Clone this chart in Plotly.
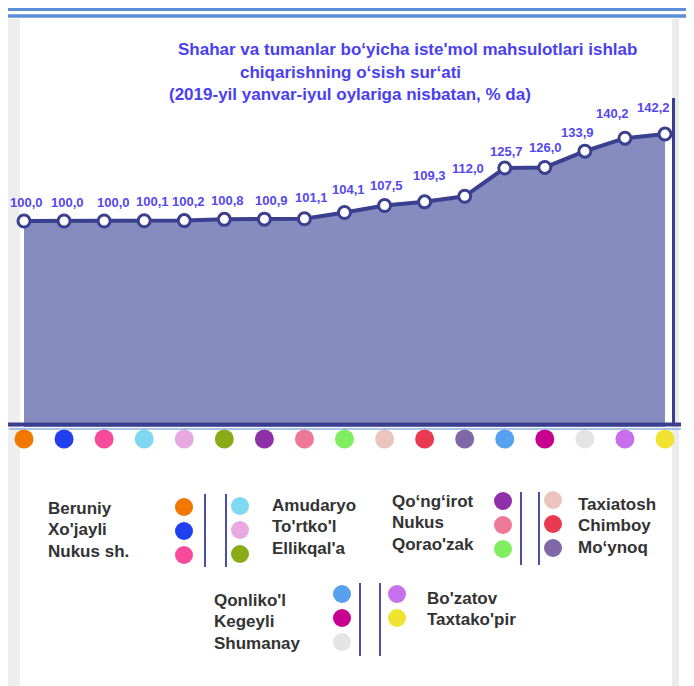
import plotly.graph_objects as go

W, H = 694, 686
OFF = 8  # page body margin: screen pixel = figure pixel + OFF

# ---------------- data ----------------
districts = ["Beruniy", "Xo'jayli", "Nukus sh.", "Amudaryo", "To'rtko'l", "Ellikqal'a",
             "Qo\u2018ng\u2018irot", "Nukus", "Qorao'zak", "Taxiatosh", "Chimboy", "Mo\u2018ynoq",
             "Qonliko'l", "Kegeyli", "Shumanay", "Bo'zatov", "Taxtako'pir"]
growth = [100.0, 100.0, 100.0, 100.1, 100.2, 100.8, 100.9, 101.1, 104.1, 107.5,
          109.3, 112.0, 125.7, 126.0, 133.9, 140.2, 142.2]
dot_colors = ["#f07800", "#2040f0", "#f84a9a", "#80d8f0", "#e8a8e0", "#8aaa18",
              "#9030a8", "#ee7898", "#80ee60", "#ecc4be", "#e83a50", "#8068a8",
              "#58a0f0", "#c80090", "#e4e4e4", "#c870ec", "#f0e430"]
title_lines = ["Shahar va tumanlar bo\u2018yicha iste'mol mahsulotlari ishlab",
               "chiqarishning o\u2018sish sur\u2018ati",
               "(2019-yil yanvar-iyul oylariga nisbatan, % da)"]

# label placement offsets (pixels) for the value labels
label_dx = [2, 3, 9, 8, 4, 3, 7, 7, 4, 2, 5, 3, 2, 1, -7, -12, -12]
label_dy = [19, 19, 19, 19, 19, 19, 19, 21, 23, 20, 26, 28, 17, 20, 19, 25, 27]

# legend groups: (indices, label side, label x, dot x, first dot y, first label y)
legend_groups = [
    ([0, 1, 2], "left", 46, 184, 507, 508),
    ([3, 4, 5], "right", 270, 240, 506, 505),
    ([6, 7, 8], "left", 390, 503, 501, 501),
    ([9, 10, 11], "right", 576, 553, 500, 504),
    ([12, 13, 14], "left", 212, 342, 594, 600),
    ([15, 16], "right", 425, 397, 594, 598),
]
legend_rules = [(205, 494, 567), (226, 494, 567), (521, 492, 565), (539, 492, 565),
                (360, 583, 656), (380, 583, 656)]

NAVY = "#3b3f8f"
FONT = "Liberation Sans, Arial, sans-serif"

def fmt(v):
    return f"{v:.1f}".replace(".", ",")

n = len(growth)
xs = list(range(n))

# pixel mapping of main axes (screen pixels)
px_step = (665 - 24) / (n - 1)
x0 = -(24 - OFF) / px_step
x1 = x0 + W / px_step
ppu = 2.06
yspan = H / ppu
y_lo = 100 - (1 - (221 - OFF) / H) * yspan
y_hi = y_lo + yspan

fig = go.Figure()

# area + line
fig.add_trace(go.Scatter(
    x=xs, y=growth, mode="lines+markers", fill="tozeroy",
    fillcolor="#878cc0",
    line=dict(color=NAVY, width=4),
    marker=dict(size=12, color="white", line=dict(color=NAVY, width=3)),
    hoverinfo="skip", showlegend=False))

# tick stubs under axis
tx, ty = [], []
for i in xs:
    tx += [i, i, None]
    ty += [428, 433, None]
fig.add_trace(go.Scatter(x=tx, y=ty, xaxis="x", yaxis="y2", mode="lines",
                         line=dict(color="#7fa6dc", width=1), hoverinfo="skip", showlegend=False))

# colored category dots below axis
fig.add_trace(go.Scatter(x=xs, y=[439] * n, xaxis="x", yaxis="y2", mode="markers",
                         marker=dict(size=19, color=dot_colors, line=dict(width=0)),
                         hoverinfo="skip", showlegend=False))

# legend dots
lx, ly, lc = [], [], []
for idxs, side, tx_, dx, yd, yl in legend_groups:
    for r, k in enumerate(idxs):
        lx.append(dx)
        ly.append(yd + r * 24)
        lc.append(dot_colors[k])
fig.add_trace(go.Scatter(x=lx, y=ly, xaxis="x2", yaxis="y2", mode="markers",
                         marker=dict(size=18, color=lc, line=dict(width=0)),
                         hoverinfo="skip", showlegend=False))

annotations = []
# data labels
for i, v in enumerate(growth):
    annotations.append(dict(x=i, y=v, xref="x", yref="y", text=fmt(v), showarrow=False,
                            xshift=label_dx[i], yshift=label_dy[i],
                            font=dict(family=FONT, size=13, color="#5548ee", weight="bold")))
# legend labels
for idxs, side, tx_, dx, yd, yl in legend_groups:
    for r, k in enumerate(idxs):
        annotations.append(dict(x=tx_, y=yl + r * 21.5, xref="x2", yref="y2",
                                text=districts[k], showarrow=False, xanchor="left", yanchor="middle",
                                font=dict(family=FONT, size=17, color="#333333", weight="bold")))
# title
title_pos = [(407, 49), (350, 72), (350, 94)]
for t, (tx_, ty_) in zip(title_lines, title_pos):
    annotations.append(dict(x=tx_, y=ty_, xref="x2", yref="y2", text=t, showarrow=False,
                            xanchor="center", yanchor="middle",
                            font=dict(family=FONT, size=17, color="#4a3ff0", weight="bold")))

shapes = []
def pline(xa, ya, xb, yb, color, width):
    shapes.append(dict(type="line", xref="x2", yref="y2", x0=xa, y0=ya, x1=xb, y1=yb,
                       line=dict(color=color, width=width)))
def prect(xa, ya, xb, yb, color):
    shapes.append(dict(type="rect", xref="x2", yref="y2", x0=xa, y0=ya, x1=xb, y1=yb,
                       fillcolor=color, line=dict(width=0), layer="below"))

prect(8, 19, 20, H + OFF, "#eeeeee")
prect(672, 19, 679, H + OFF, "#ececec")
pline(8, 9.5, W + OFF, 9.5, "#5b8ed6", 3)
pline(8, 16, W + OFF, 16, "#5b8ed6", 3.5)
pline(9, 429, 681, 429, "#8fb0e0", 1.5)
pline(8, 424.5, 681, 424.5, NAVY, 4)
pline(673.5, 98, 673.5, 426, NAVY, 3)
for (xx, ya, yb) in legend_rules:
    pline(xx, ya, xx, yb, "#4a50a8", 2)

fig.update_layout(
    width=W, height=H,
    margin=dict(l=0, r=0, t=0, b=0),
    paper_bgcolor="white", plot_bgcolor="rgba(0,0,0,0)",
    xaxis=dict(range=[x0, x1], visible=False, fixedrange=True),
    yaxis=dict(range=[y_lo, y_hi], visible=False, fixedrange=True),
    xaxis2=dict(range=[OFF, W + OFF], overlaying="x", visible=False, fixedrange=True),
    yaxis2=dict(range=[H + OFF, OFF], overlaying="y", visible=False, fixedrange=True),
    annotations=annotations, shapes=shapes,
    showlegend=False,
)

fig.write_html("out.html", config=dict(displayModeBar=False))
